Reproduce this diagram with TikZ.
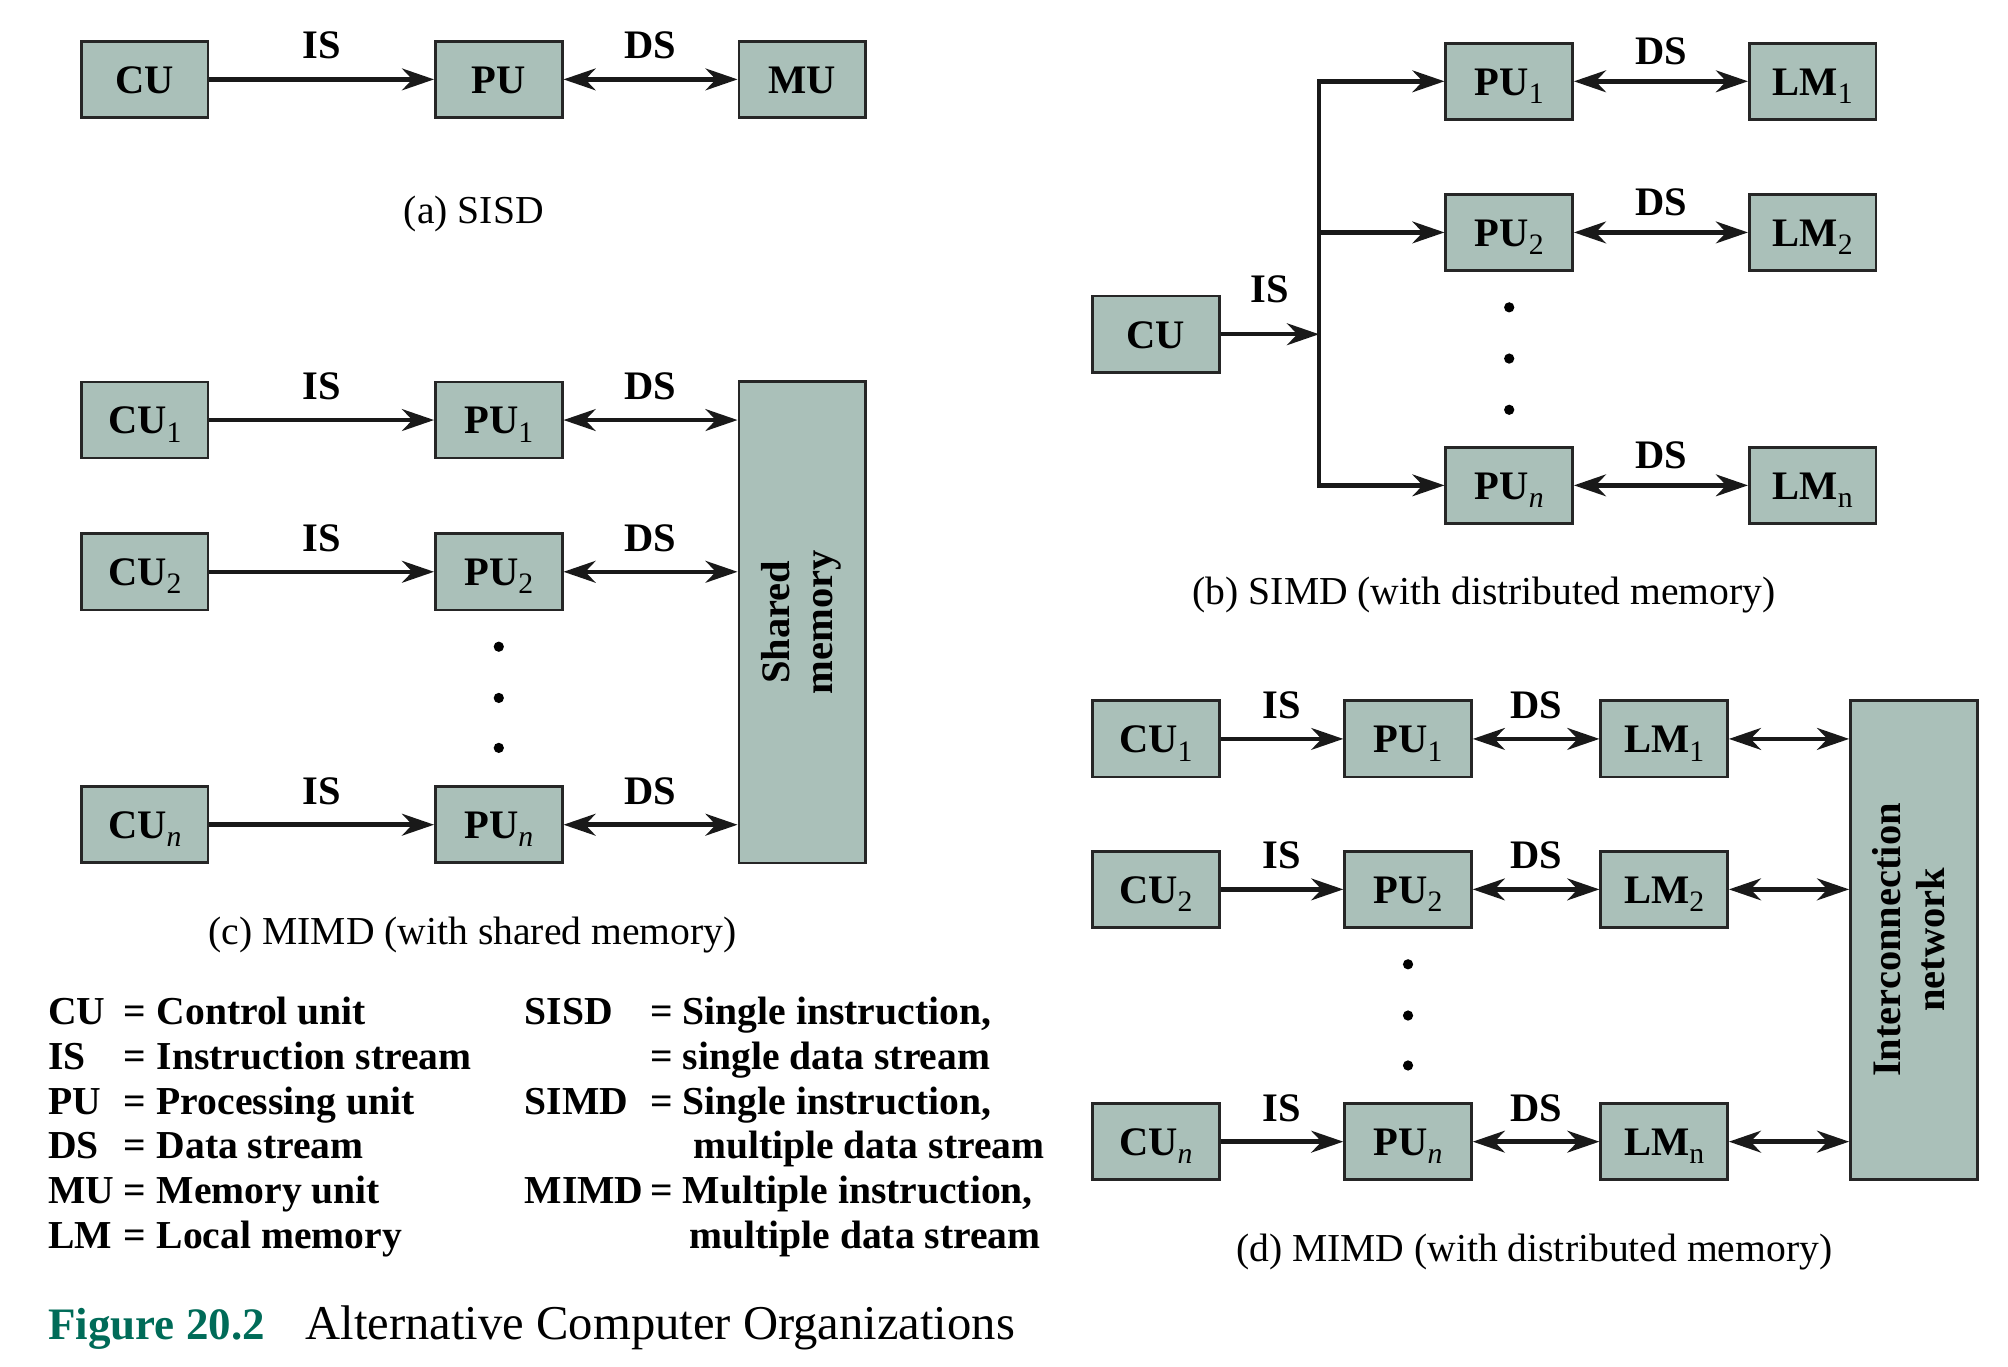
\documentclass[tikz,border=0pt]{standalone}
\usepackage{fontspec}
\setmainfont{Liberation Serif}
\usepackage{tikz}
\usetikzlibrary{arrows.meta,positioning,calc}
\usepackage{color}

\definecolor{unitfill}{RGB}{170,192,185}
\definecolor{figteal}{RGB}{0,107,88}

\newcommand{\subn}[1]{\raisebox{-0.45ex}{\mdseries\fontsize{6.6pt}{7pt}\selectfont #1}}

\tikzset{
  headtip/.tip={Stealth[length=2.5mm,width=1.7mm,inset=0.8mm]},
  tallbox/.style={draw=black!85, line width=0.6pt, fill=unitfill, inner sep=0pt,
    minimum width=9.9mm, font=\fontsize{9pt}{9.6pt}\selectfont\bfseries},
  unitbox/.style={tallbox, minimum height=5.95mm, text height=2.15mm, text depth=0pt},
  flow/.style={draw=black!90, line width=1pt, -headtip},
  twoway/.style={draw=black!90, line width=1pt, headtip-headtip},
  lbl/.style={midway, above=4pt, inner sep=0pt, font=\fontsize{9pt}{9.6pt}\selectfont\bfseries},
  subcap/.style={inner sep=0pt, font=\fontsize{8.8pt}{9.6pt}\selectfont},
  ellip/.style={circle, fill=black, inner sep=0pt, minimum size=0.8mm},
}

\begin{document}
\begin{tikzpicture}[x=0.1mm, y=-0.1mm]
    \useasboundingbox (0,0) rectangle (1568,1067);

    % (a) SISD
    \node [unitbox] (cua) at (113,62) {CU};
    \node [unitbox] (pua) at (389.5,62) {PU};
    \node [unitbox] (mua) at (626.5,62) {MU};
    \draw [flow] (cua) -- (pua) node [lbl] {IS};
    \draw [twoway] (pua) -- (mua) node [lbl] {DS};
    \node [subcap] (capa) at (370,167) {(a) SISD};

    % (c) MIMD, shared memory
    \node [tallbox, minimum height=37.6mm] (shm) at (626.5,486)
      {\rotatebox{90}{\begin{tabular}{@{}c@{}}Shared\\memory\end{tabular}}};
    \node [unitbox] (cu1c) at (113,328) {CU\subn{1}};
    \node [unitbox] (pu1c) at (389.5,328) {PU\subn{1}};
    \node [unitbox] (cu2c) at (113,446.5) {CU\subn{2}};
    \node [unitbox] (pu2c) at (389.5,446.5) {PU\subn{2}};
    \node [unitbox] (cunc) at (113,644) {CU\subn{\itshape n}};
    \node [unitbox] (punc) at (389.5,644) {PU\subn{\itshape n}};
    \draw [flow] (cu1c) -- (pu1c) node [lbl] {IS};
    \draw [flow] (cu2c) -- (pu2c) node [lbl] {IS};
    \draw [flow] (cunc) -- (punc) node [lbl] {IS};
    \draw [twoway] (pu1c) -- (pu1c -| shm.west) node [lbl] {DS};
    \draw [twoway] (pu2c) -- (pu2c -| shm.west) node [lbl] {DS};
    \draw [twoway] (punc) -- (punc -| shm.west) node [lbl] {DS};
    \foreach \y [count=\i] in {505,545,584}
      \node [ellip] (dc\i) at (389.5,\y) {};
    \node [subcap] (capc) at (369,730) {(c) MIMD (with shared memory)};

    % (b) SIMD, distributed memory
    \node [unitbox] (cub) at (902.5,261) {CU};
    \node [unitbox] (pu1b) at (1178.5,63.5) {PU\subn{1}};
    \node [unitbox] (lm1b) at (1415.5,63.5) {LM\subn{1}};
    \node [unitbox] (pu2b) at (1178.5,181.5) {PU\subn{2}};
    \node [unitbox] (lm2b) at (1415.5,181.5) {LM\subn{2}};
    \node [unitbox] (punb) at (1178.5,379) {PU\subn{\itshape n}};
    \node [unitbox] (lmnb) at (1415.5,379) {LM\subn{n}};
    \coordinate (busmid) at (1030,261);
    \coordinate (bus2) at (1030,181.5);
    \draw [flow] (cub) -- (busmid) node [lbl, above=6.5pt] {IS};
    \draw [flow] (busmid) |- (pu1b);
    \draw [flow] (busmid) |- (punb);
    \draw [flow] (bus2) -- (pu2b);
    \draw [twoway] (pu1b) -- (lm1b) node [lbl, above=3.2pt] {DS};
    \draw [twoway] (pu2b) -- (lm2b) node [lbl, above=3.2pt] {DS};
    \draw [twoway] (punb) -- (lmnb) node [lbl, above=3.2pt] {DS};
    \foreach \y [count=\i] in {240,280,320}
      \node [ellip] (db\i) at (1178.5,\y) {};
    \node [subcap] (capb) at (1159,465) {(b) SIMD (with distributed memory)};

    % (d) MIMD, distributed memory
    \node [tallbox, minimum height=37.4mm] (net) at (1494.5,734)
      {\rotatebox{90}{\begin{tabular}{@{}c@{}}Interconnection\\network\end{tabular}}};
    \node [unitbox] (cu1d) at (902.5,577) {CU\subn{1}};
    \node [unitbox] (pu1d) at (1099.5,577) {PU\subn{1}};
    \node [unitbox] (lm1d) at (1299.5,577) {LM\subn{1}};
    \node [unitbox] (cu2d) at (902.5,694.5) {CU\subn{2}};
    \node [unitbox] (pu2d) at (1099.5,694.5) {PU\subn{2}};
    \node [unitbox] (lm2d) at (1299.5,694.5) {LM\subn{2}};
    \node [unitbox] (cund) at (902.5,891.5) {CU\subn{\itshape n}};
    \node [unitbox] (pund) at (1099.5,891.5) {PU\subn{\itshape n}};
    \node [unitbox] (lmnd) at (1299.5,891.5) {LM\subn{n}};
    \draw [flow] (cu1d) -- (pu1d) node [lbl] {IS};
    \draw [flow] (cu2d) -- (pu2d) node [lbl] {IS};
    \draw [flow] (cund) -- (pund) node [lbl] {IS};
    \draw [twoway] (pu1d) -- (lm1d) node [lbl] {DS};
    \draw [twoway] (pu2d) -- (lm2d) node [lbl] {DS};
    \draw [twoway] (pund) -- (lmnd) node [lbl] {DS};
    \draw [twoway] (lm1d) -- (lm1d -| net.west);
    \draw [twoway] (lm2d) -- (lm2d -| net.west);
    \draw [twoway] (lmnd) -- (lmnd -| net.west);
    \foreach \y [count=\i] in {753,793,832}
      \node [ellip] (dd\i) at (1099.5,\y) {};
    \node [subcap] (capd) at (1198,978) {(d) MIMD (with distributed memory)};

    % legend
    \node [anchor=base west, inner sep=0pt, font=\fontsize{8.8pt}{9.96pt}\selectfont\bfseries] (legl) at (37,800)
      {\begin{tabular}[t]{@{}p{5.9mm}@{}l@{\hspace{0.8mm}}l@{}}
        CU & = & Control unit\\
        IS & = & Instruction stream\\
        PU & = & Processing unit\\
        DS & = & Data stream\\
        MU & = & Memory unit\\
        LM & = & Local memory
      \end{tabular}};
    \node [anchor=base west, inner sep=0pt, font=\fontsize{8.8pt}{9.96pt}\selectfont\bfseries] (legr) at (409,800)
      {\begin{tabular}[t]{@{}p{9.8mm}@{}l@{\hspace{0.8mm}}l@{}}
        SISD & = & Single instruction,\\
             & = & single data stream\\
        SIMD & = & Single instruction,\\
             &   & \hspace{0.8mm}multiple data stream\\
        MIMD & = & Multiple instruction,\\
             &   & \hspace{0.5mm}multiple data stream
      \end{tabular}};

    % figure caption
    \node [anchor=base west, inner sep=0pt, text=figteal, font=\fontsize{10pt}{12pt}\selectfont\bfseries] (figno) at (37,1046) {Figure 20.2};
    \node [anchor=base west, inner sep=0pt, font=\fontsize{10.8pt}{12pt}\selectfont] (figtitle) at (238,1046) {Alternative Computer Organizations};

\end{tikzpicture}
\end{document}
